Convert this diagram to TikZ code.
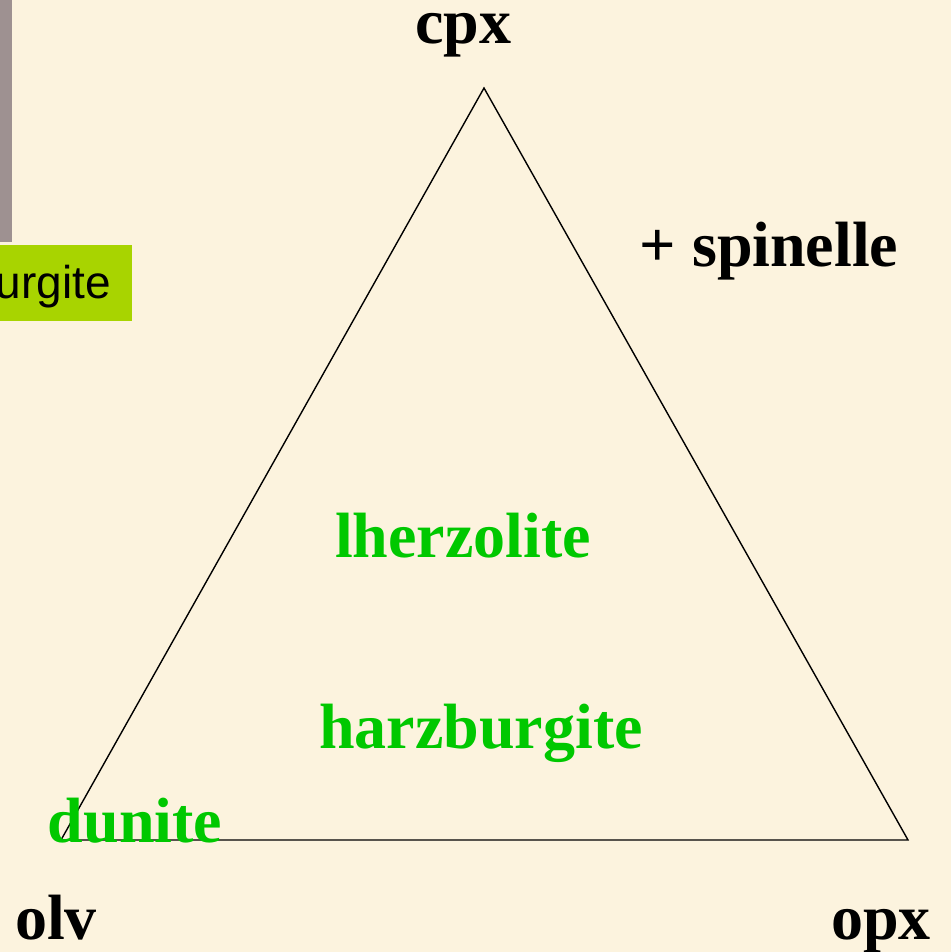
\documentclass[tikz,border=0pt]{standalone}
\usepackage{fontspec}
\setmainfont{Liberation Serif}
\newfontfamily\arialfont{Liberation Sans}
\definecolor{parch}{RGB}{252,243,222}
\definecolor{barcol}{RGB}{158,145,145}
\definecolor{tagcol}{RGB}{168,212,0}
\definecolor{rockgreen}{RGB}{0,200,0}
\begin{document}
\begin{tikzpicture}[x=1pt,y=-1pt,
  lab/.style={font=\fontsize{64}{64}\selectfont\bfseries, inner sep=0pt, anchor=base},
  rock/.style={lab, text=rockgreen}]
\useasboundingbox (0,0) rectangle (951,952);
\fill[parch] (0,0) rectangle (951,952);
% left-edge remnants
\fill[barcol] (0,0) rectangle (12,242);
\fill[tagcol] (0,245) rectangle (132,321);
\begin{scope}
\clip (0,245) rectangle (132,321);
\node[font=\arialfont\fontsize{46}{46}\selectfont, inner sep=0pt, anchor=base east] (tag) at (111,298) {urgite};
\end{scope}
% triangle
\coordinate (cpxv) at (484,88);
\coordinate (olvv) at (61,840);
\coordinate (opxv) at (908,840);
\draw[line width=1.4pt, line join=miter] (cpxv) -- (opxv) -- (olvv) -- cycle;
% labels
\node[lab] (cpx) at (463.5,44) {cpx};
\node[lab] (spin) at (769,266) {+ spinelle};
\node[lab] (olv) at (56,939) {olv};
\node[lab] (opx) at (881,939) {opx};
\node[rock] (lherz) at (463,557) {lherzolite};
\node[rock] (harz) at (481,748) {harzburgite};
\node[rock] (dun) at (135,842) {dunite};
\end{tikzpicture}
\end{document}
